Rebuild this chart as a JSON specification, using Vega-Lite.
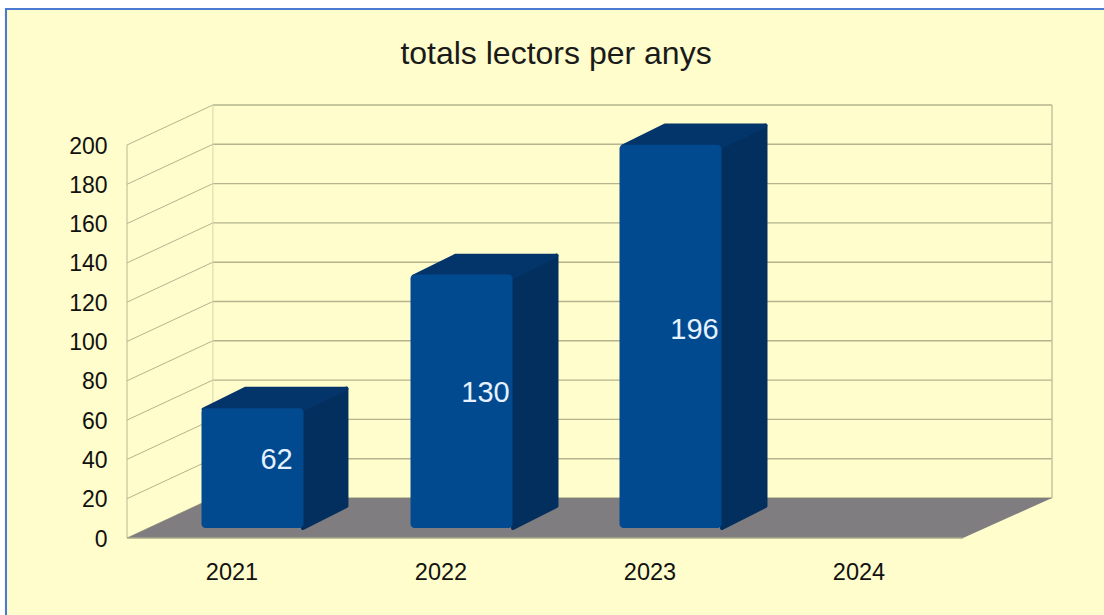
{
"$schema":"https://vega.github.io/schema/vega-lite/v6.json",
"width":836,"height":393,
"autosize":{"type":"none"},
"padding":{"left":127,"top":145,"right":141,"bottom":77},
"background":"#ffffff",
"config":{"view":{"stroke":null},"font":"Liberation Sans"},
"title":{"text":"totals lectors per anys","font":"Liberation Sans","fontSize":32,"fontWeight":"normal","color":"#1a1a1a","anchor":"middle","frame":"group","dx":11,"offset":-63},
"resolve":{"axis":{"x":"independent","y":"independent"}},
"datasets":{
"bars":[{"year":2021,"value":62,"labelAt":39.5},{"year":2022,"value":130,"labelAt":74},{"year":2023,"value":196,"labelAt":106}],
"levels":[{"value":0,"back":20.36},{"value":20,"back":40.36},{"value":40,"back":60.36},{"value":60,"back":80.36},{"value":80,"back":100.36},{"value":100,"back":120.36},{"value":120,"back":140.36},{"value":140,"back":160.36},{"value":160,"back":180.36},{"value":180,"back":200.36},{"value":200,"back":220.36}],
"frame":[{"part":"border","x0":2019.916,"x1":2025.175,"y0":-39.2,"y1":269.7},{"part":"panel","x0":2019.926,"x1":2025.175,"y0":-39.2,"y1":268.7}],
"floor":[{"x":2020.5,"y":0,"y2":0},{"x":2020.911,"y":20.36,"y2":0},{"x":2024.5,"y":20.36,"y2":0},{"x":2024.926,"y":20.36,"y2":20.36}],
"side":[{"year":2021,"x":2021.342,"top":65.4,"base":5.09},{"year":2021,"x":2021.55,"top":76,"base":16.28},{"year":2022,"x":2022.347,"top":133,"base":5.09},{"year":2022,"x":2022.555,"top":143.7,"base":16.28},{"year":2023,"x":2023.347,"top":199.2,"base":5.09},{"year":2023,"x":2023.555,"top":209.9,"base":16.28}],
"cap":[{"year":2021,"x":2020.866,"top":65.4,"base":65.4},{"year":2021,"x":2021.069,"top":76,"base":65.4},{"year":2021,"x":2021.342,"top":76,"base":65.4},{"year":2021,"x":2021.55,"top":76,"base":76},{"year":2022,"x":2021.871,"top":133,"base":133},{"year":2022,"x":2022.074,"top":143.7,"base":133},{"year":2022,"x":2022.347,"top":143.7,"base":133},{"year":2022,"x":2022.555,"top":143.7,"base":143.7},{"year":2023,"x":2022.871,"top":199.2,"base":199.2},{"year":2023,"x":2023.074,"top":209.9,"base":199.2},{"year":2023,"x":2023.347,"top":209.9,"base":199.2},{"year":2023,"x":2023.555,"top":209.9,"base":209.9}]
},
"layer":[
{"data":{"name":"frame"},"transform":[{"filter":"datum.part=='border'"}],"mark":{"type":"rect","fill":"#4a7bd0","clip":false},
 "encoding":{"x":{"field":"x0","type":"quantitative","title":null,"scale":{"domain":[2020.5,2024.5],"nice":false,"zero":false,"padding":0},"axis":null},
   "x2":{"field":"x1"},
   "y":{"field":"y0","type":"quantitative","title":null,"scale":{"domain":[0,200],"nice":false,"zero":false,"padding":0},"axis":null},
   "y2":{"field":"y1"}}},
{"data":{"name":"frame"},"transform":[{"filter":"datum.part=='panel'"}],"mark":{"type":"rect","fill":"#fffdcb"},
 "encoding":{"x":{"field":"x0","type":"quantitative","axis":null},"x2":{"field":"x1"},"y":{"field":"y0","type":"quantitative","axis":null},"y2":{"field":"y1"}}},
{"data":{"name":"levels"},"mark":{"type":"rule","stroke":"#b4b48e","strokeWidth":1},
 "encoding":{"x":{"datum":2020.5,"type":"quantitative","axis":null},"x2":{"datum":2020.911},"y":{"field":"value","type":"quantitative","axis":null},"y2":{"field":"back"}}},
{"data":{"name":"levels"},"mark":{"type":"rule","stroke":"#b4b48e","strokeWidth":1.4},
 "encoding":{"x":{"datum":2020.911,"type":"quantitative","axis":null},"x2":{"datum":2024.926},"y":{"field":"back","type":"quantitative","axis":null}}},
{"mark":{"type":"rule","stroke":"#b9b995","strokeWidth":1},"data":{"values":[{"a":0}]},
 "encoding":{"x":{"datum":2020.5,"type":"quantitative","axis":null},"y":{"datum":0,"type":"quantitative","axis":null},"y2":{"datum":200}}},
{"mark":{"type":"rule","stroke":"#d6d6ae","strokeWidth":1},"data":{"values":[{"a":0}]},
 "encoding":{"x":{"datum":2020.911,"type":"quantitative","axis":null},"y":{"datum":20.36,"type":"quantitative","axis":null},"y2":{"datum":220.36}}},
{"mark":{"type":"rule","stroke":"#c4c4a0","strokeWidth":1.5},"data":{"values":[{"a":0}]},
 "encoding":{"x":{"datum":2024.926,"type":"quantitative","axis":null},"y":{"datum":20.36,"type":"quantitative","axis":null},"y2":{"datum":220.36}}},
{"data":{"name":"floor"},"mark":{"type":"area","fill":"#7f7d80","line":false},
 "encoding":{"x":{"field":"x","type":"quantitative","axis":null},"y":{"field":"y","type":"quantitative","stack":null,"axis":null},"y2":{"field":"y2"}}},
{"mark":{"type":"rule","stroke":"#a8a88a","strokeWidth":1.5},"data":{"values":[{"a":0}]},
 "encoding":{"x":{"datum":2020.5,"type":"quantitative","axis":null},"x2":{"datum":2024.5},"y":{"datum":0,"type":"quantitative","axis":null}}},
{"data":{"name":"side"},"mark":{"type":"area","fill":"#032f5e","stroke":"#032f5e","strokeWidth":4,"strokeJoin":"round"},
 "encoding":{"detail":{"field":"year"},"x":{"field":"x","type":"quantitative","axis":null},"y":{"field":"top","type":"quantitative","stack":null,"axis":null},"y2":{"field":"base"}}},
{"data":{"name":"cap"},"mark":{"type":"area","fill":"#04356a","stroke":"#04356a","strokeWidth":4,"strokeJoin":"round"},
 "encoding":{"detail":{"field":"year"},"x":{"field":"x","type":"quantitative","axis":null},"y":{"field":"top","type":"quantitative","stack":null,"axis":null},"y2":{"field":"base"}}},
{"data":{"name":"bars"},"mark":{"type":"bar","orient":"vertical","width":102,"xOffset":21,"yOffset":-8,"y2Offset":-8,"fill":"#024a90","cornerRadius":4},
 "encoding":{"x":{"field":"year","type":"quantitative","axis":null},"y":{"field":"value","type":"quantitative","stack":null,"axis":null},"y2":{"datum":1}}},
{"data":{"name":"bars"},"mark":{"type":"text","xOffset":45,"fontSize":29,"fill":"#e6f2ff","font":"Liberation Sans","baseline":"middle"},
 "encoding":{"x":{"field":"year","type":"quantitative",
   "axis":{"values":[2021,2022,2023,2024],"format":"d","grid":false,"ticks":false,"domain":false,"labelFontSize":23.5,"labelColor":"#111111","labelPadding":22,"labelFont":"Liberation Sans","title":null,"labelOverlap":false,"zindex":1}},
  "y":{"field":"labelAt","type":"quantitative",
   "axis":{"values":[0,20,40,60,80,100,120,140,160,180,200],"grid":false,"ticks":false,"domain":false,"labelFontSize":23,"labelColor":"#111111","labelPadding":20,"labelOffset":1,"labelFont":"Liberation Sans","title":null,"labelOverlap":false,"zindex":1}},
  "text":{"field":"value","type":"quantitative"}}}
]
}
